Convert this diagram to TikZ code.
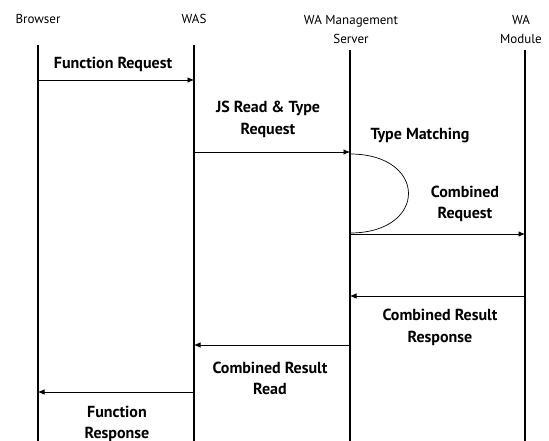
\documentclass[tikz,border=0pt]{standalone}
\usepackage{fontspec}
\setmainfont{PT Sans}
\usetikzlibrary{arrows.meta}

\begin{document}
\begin{tikzpicture}[x=1pt, y=-1pt,
        head/.style={font=\fontsize{13}{19}\selectfont, align=center},
        lbl/.style={font=\bfseries\fontsize{16}{21.5}\selectfont, align=center},
        life/.style={line width=1.4pt},
        msg/.style={line width=0.9pt, -{Latex[length=6.5pt,width=5.5pt]}}]
    \useasboundingbox (0,0) rectangle (549,441);
    % participants
    \node[head] (browser) at (38,19) {Browser};
    \node[head] (was) at (194,19) {WAS};
    \node[head] (wams) at (351,29) {WA Management\\Server};
    \node[head] (module) at (521,29) {WA\\Module};
    % lifelines
    \foreach \n/\x/\y in {bl/38/45, wl/194/45, ml/350/50, dl/525/50} {
        \coordinate (\n) at (\x,\y);
        \draw[life] (\n) -- (\x,441);
    }
    % messages
    \draw[msg] (bl |- 0,80) -- (wl |- 0,80);
    \node[lbl] (freq) at (113,64) {Function Request};
    \draw[msg] (wl |- 0,152) -- (ml |- 0,152);
    \node[lbl] (jsreq) at (268,119.5) {JS Read \& Type\\Request};
    \draw[line width=0.7pt] (ml |- 0,154) .. controls +(78,0) and +(78,0) .. (ml |- 0,233);
    \node[lbl] (match) at (420,136) {Type Matching};
    \draw[msg] (ml |- 0,234) -- (dl |- 0,234);
    \node[lbl] (creq) at (465,204) {Combined\\Request};
    \draw[msg] (dl |- 0,296) -- (ml |- 0,296);
    \node[lbl] (cresp) at (440,327.5) {Combined Result\\Response};
    \draw[msg] (ml |- 0,345) -- (wl |- 0,345);
    \node[lbl] (cread) at (270,378.5) {Combined Result\\Read};
    \draw[msg] (wl |- 0,392) -- (bl |- 0,392);
    \node[lbl] (fresp) at (117,424) {Function\\Response};
\end{tikzpicture}
\end{document}
